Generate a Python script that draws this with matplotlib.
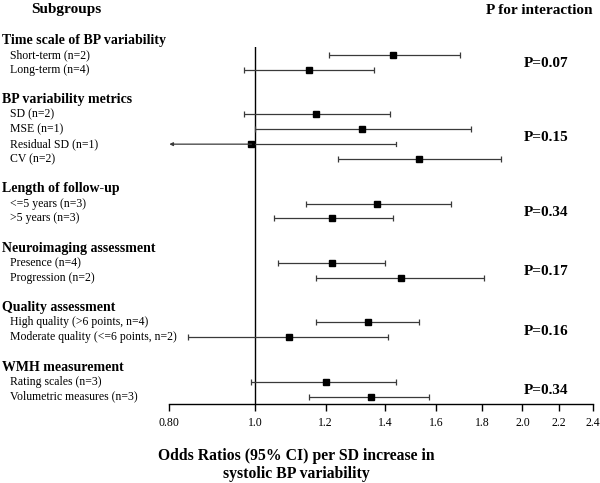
import matplotlib
matplotlib.use("Agg")
import matplotlib.pyplot as plt
import matplotlib.transforms as mtransforms
import numpy as np

# ---------------- data ----------------
groups = ["Time scale of BP variability", "BP variability metrics", "Length of follow-up",
          "Neuroimaging assessment", "Quality assessment", "WMH measurement"]
subgroups = [
    ["Short-term (n=2)", "Long-term (n=4)"],
    ["SD (n=2)", "MSE (n=1)", "Residual SD (n=1)", "CV (n=2)"],
    ["<=5 years (n=3)", ">5 years (n=3)"],
    ["Presence (n=4)", "Progression (n=2)"],
    ["High quality (>6 points, n=4)", "Moderate quality (<=6 points, n=2)"],
    ["Rating scales (n=3)", "Volumetric measures (n=3)"],
]
odds = [[1.43, 1.15], [1.17, 1.32, 0.99, 1.53], [1.37, 1.22], [1.22, 1.46], [1.34, 1.09], [1.20, 1.35]]
lower = [[1.21, 0.97], [0.97, 1.00, 0.70, 1.24], [1.14, 1.05], [1.06, 1.17], [1.17, 0.84], [0.99, 1.15]]
upper = [[1.70, 1.36], [1.42, 1.75, 1.44, 1.89], [1.66, 1.43], [1.40, 1.81], [1.53, 1.41], [1.44, 1.57]]
p_values = ["P=0.07", "P=0.15", "P=0.34", "P=0.17", "P=0.16", "P=0.34"]
xticks = [0.8, 1.0, 1.2, 1.4, 1.6, 1.8, 2.0, 2.2, 2.4]
xticklabels = ["0.80", "1.0", "1.2", "1.4", "1.6", "1.8", "2.0", "2.2", "2.4"]
xlim = (0.8, 2.4)

# ---------------- layout ----------------
W, H = 600, 483
fig = plt.figure(figsize=(6.0, 4.83), dpi=100)
plt.rcParams['font.family'] = ['Liberation Serif', 'DejaVu Serif']

ax_left, ax_right = 169.3, 592.7
ax_top, ax_bot = 47, 404
ax = fig.add_axes([ax_left / W, 1 - ax_bot / H, (ax_right - ax_left) / W, (ax_bot - ax_top) / H])

row0_px, row_step = 55.0, 14.86
ax.set_xscale('log')
ax.set_xlim(*xlim)
ax.set_ylim((ax_bot - row0_px) / row_step, (ax_top - row0_px) / row_step)

for s in ['top', 'right', 'left']:
    ax.spines[s].set_visible(False)
ax.spines['bottom'].set_linewidth(1.0)
ax.set_yticks([])
ax.xaxis.set_minor_locator(matplotlib.ticker.NullLocator())
ax.set_xticks(xticks)
ax.set_xticklabels(xticklabels, fontsize=8.5)
ax.tick_params(axis='x', direction='out', length=5, width=1.0, pad=4.5)

ax.axvline(1.0, color='black', lw=1.0)

trans_fig_x = mtransforms.blended_transform_factory(fig.transFigure, ax.transData)

row = 0
err_color = '#3a3a3a'
for gi, g in enumerate(groups):
    header_row = row - 1
    ax.text(2 / W, header_row, g, transform=trans_fig_x, fontsize=10, fontweight='bold',
            va='center', ha='left', clip_on=False)
    rows = []
    for si, lab in enumerate(subgroups[gi]):
        ax.text(10 / W, row, lab, transform=trans_fig_x, fontsize=8.5, va='center', ha='left',
                clip_on=False)
        o, lo, hi = odds[gi][si], lower[gi][si], upper[gi][si]
        if lo < xlim[0]:
            ax.plot([o, hi], [row, row], color=err_color, lw=0.9, solid_capstyle='butt')
            ax.plot([hi, hi], [row - 0.13, row + 0.13], color=err_color, lw=0.9)
            ax.annotate('', xy=(xlim[0], row), xytext=(o, row),
                        arrowprops=dict(arrowstyle='-|>', color=err_color, lw=0.9,
                                        mutation_scale=5, shrinkA=0, shrinkB=0))
        else:
            ax.errorbar([o], [row], xerr=[[o - lo], [hi - o]], fmt='none', ecolor=err_color,
                        elinewidth=0.9, capsize=2, capthick=0.9)
        ax.plot([o], [row], marker='s', color='black', markersize=4.5, linestyle='none')
        rows.append(row)
        row += 1
    mid = np.mean(rows)
    ax.text(524 / W, mid + 0.08, p_values[gi], transform=trans_fig_x, fontsize=11,
            fontweight='bold', va='center', ha='left', clip_on=False)
    row += 2

fig.text(31 / W, 1 - 10 / H, "Subgroups", fontsize=11, fontweight='bold', va='center', ha='left')
fig.text(486 / W, 1 - 11 / H, "P for interaction", fontsize=11, fontweight='bold', va='center', ha='left')
fig.text(296 / W, 1 - 465 / H, "Odds Ratios (95% CI) per SD increase in\nsystolic BP variability",
         fontsize=11.3, fontweight='bold', va='center', ha='center', multialignment='center',
         linespacing=1.1)

fig.savefig("out.png", dpi=100)
